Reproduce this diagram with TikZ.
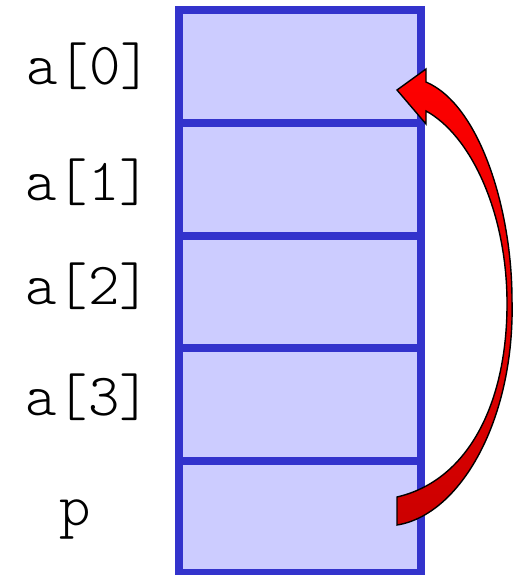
\documentclass[tikz,border=0pt]{standalone}
\usepackage{fontspec}
\setmonofont{Latin Modern Mono Light}
\usepackage{tikz}
\usetikzlibrary{positioning}
\definecolor{cellblue}{RGB}{51,51,204}
\definecolor{cellfill}{RGB}{204,204,255}
\definecolor{ptrred}{RGB}{255,0,0}
\definecolor{ptrdark}{RGB}{204,0,0}

\begin{document}
\begin{tikzpicture}[x=1bp, y=-1bp,
    cell/.style={draw=cellblue, fill=cellfill, line width=8bp, outer sep=0pt, inner sep=0pt,
                 minimum width=242bp, minimum height=112.5bp},
    lbl/.style={font=\fontsize{60}{66}\selectfont\ttfamily, anchor=base, inner sep=0pt}
]
\useasboundingbox (0,0) rectangle (517,575);

% === memory cells ===
\node[cell] (cell0) at (300, 66.75) {};
\foreach \i [remember=\i as \j (initially 0)] in {1,...,4} {
    \node[cell, below=0pt of cell\j] (cell\i) {};
}

% === labels ===
\foreach \i/\txt/\xx/\yy in {0/{a[0]}/89/85, 1/{a[1]}/88/200, 2/{a[2]}/88/304, 3/{a[3]}/88/415, 4/{p}/75/525} {
    \node[lbl] (lbl\i) at (\xx, \yy) {\txt};
}

% === pointer arrow ===
\path[draw=black, line width=1.4bp, top color=ptrred, bottom color=ptrdark, line join=miter]
    (397,525) .. controls (460,515) and (515,420) .. (512,300)
    .. controls (512,210) and (480,105) .. (426,82)
    -- (426,69) -- (397,90) -- (426,124) -- (426,111)
    .. controls (470,135) and (506,210) .. (507,300)
    .. controls (508,400) and (470,480) .. (397,497) -- cycle;

\end{tikzpicture}
\end{document}
